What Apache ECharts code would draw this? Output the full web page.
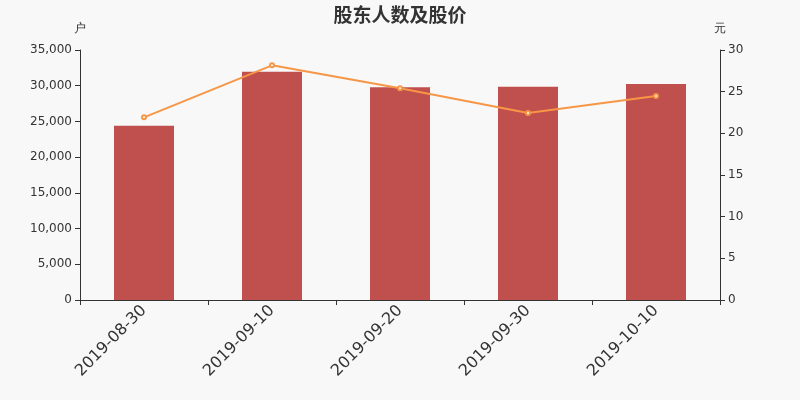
<!DOCTYPE html>
<html><head><meta charset="utf-8">
<script src="https://cdn.jsdelivr.net/npm/echarts@6/dist/echarts.min.js"></script>
<style>html,body{margin:0;padding:0;background:#f8f8f8}#c{width:800px;height:400px}</style>
</head><body><div id="c"></div>
<script>
const categories = ['2019-08-30','2019-09-10','2019-09-20','2019-09-30','2019-10-10'];
const holders = [24400, 31960, 29780, 29860, 30240];
const prices = [21.92, 28.16, 25.40, 22.44, 24.48];
const leftTicks = [0, 35000, 5000];
const rightTicks = [0, 30, 5];

const chart = echarts.init(document.getElementById('c'), null, {renderer:'canvas'});
chart.setOption({
  backgroundColor:'#f8f8f8',
  animation:false,
  textStyle:{fontFamily:'DejaVu Sans'},
  title:{text:'股东人数及股价', left:'center', top:0, textStyle:{fontSize:19, fontWeight:'bold', color:'#333', fontFamily:'Noto Sans CJK SC'}},
  grid:{left:80, right:80, top:50, bottom:100},
  xAxis:{type:'category', data:categories, boundaryGap:true,
    axisLine:{lineStyle:{color:'#333'}}, axisTick:{show:true, length:5, lineStyle:{color:'#333'}},
    axisLabel:{rotate:45, fontSize:16, color:'#333', margin:8, interval:0}},
  yAxis:[
    {type:'value', name:'户', min:leftTicks[0], max:leftTicks[1], interval:leftTicks[2],
     nameTextStyle:{color:'#333', fontSize:12}, nameGap:15,
     axisLine:{show:true, lineStyle:{color:'#333'}}, axisTick:{show:true, length:5, lineStyle:{color:'#333'}},
     axisLabel:{color:'#333', fontSize:12, formatter:v=>v.toLocaleString('en-US')}, splitLine:{show:false}},
    {type:'value', name:'元', min:rightTicks[0], max:rightTicks[1], interval:rightTicks[2],
     nameTextStyle:{color:'#333', fontSize:12}, nameGap:15,
     axisLine:{show:true, lineStyle:{color:'#333'}}, axisTick:{show:true, length:5, lineStyle:{color:'#333'}},
     axisLabel:{color:'#333', fontSize:12}, splitLine:{show:false}}
  ],
  series:[
    {type:'bar', data:holders, barWidth:60, itemStyle:{color:'#c0504d'}, yAxisIndex:0},
    {type:'line', data:prices, yAxisIndex:1, symbol:'emptyCircle', symbolSize:4,
     lineStyle:{color:'#f79646', width:2}, itemStyle:{color:'#f79646'}}
  ]
});
</script></body></html>
